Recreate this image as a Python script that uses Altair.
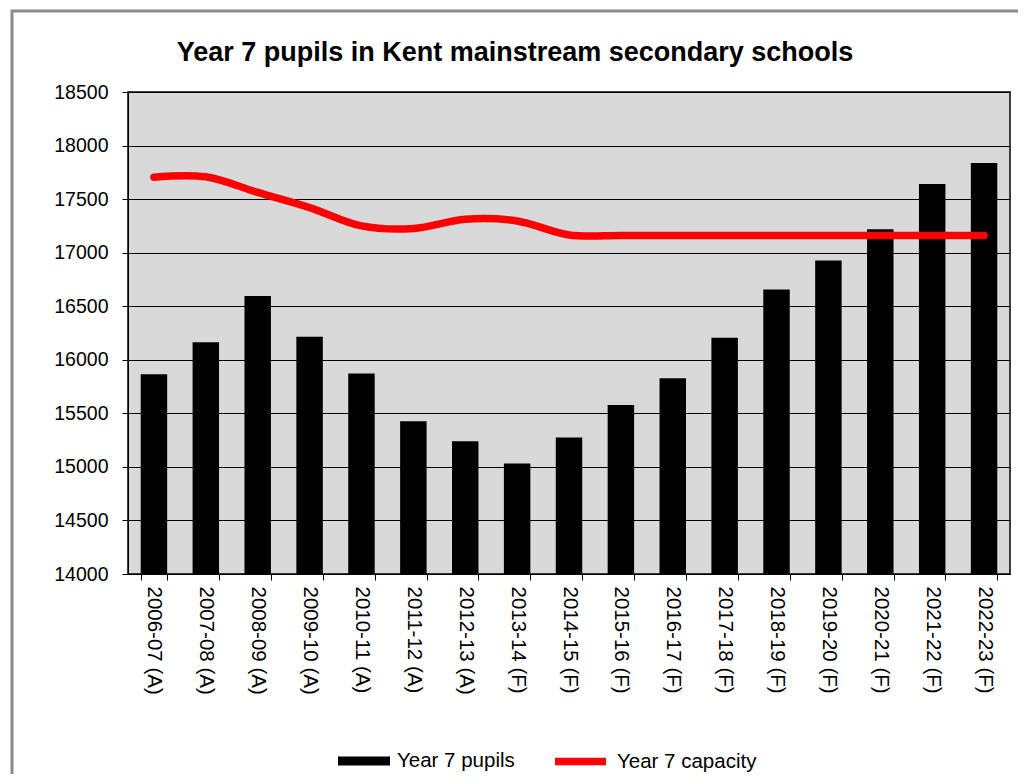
import altair as alt
import pandas as pd

years = ["2006-07 (A)", "2007-08 (A)", "2008-09 (A)", "2009-10 (A)", "2010-11 (A)",
         "2011-12 (A)", "2012-13 (A)", "2013-14 (F)", "2014-15 (F)", "2015-16 (F)",
         "2016-17 (F)", "2017-18 (F)", "2018-19 (F)", "2019-20 (F)", "2020-21 (F)",
         "2021-22 (F)", "2022-23 (F)"]
pupils = [15864, 16163, 16595, 16216, 15873, 15427, 15239, 15032, 15274, 15577,
          15827, 16206, 16657, 16928, 17218, 17640, 17838]
capacity = [17705, 17708, 17562, 17421, 17250, 17225, 17312, 17296, 17165, 17160,
            17160, 17160, 17160, 17160, 17160, 17160, 17160]

df = pd.DataFrame({"year": years, "pupils": pupils, "capacity": capacity,
                   "s1": "Year 7 pupils", "s2": "Year 7 capacity"})

FONT = "Liberation Sans"
W, H = 882, 482

x = alt.X("year:N", sort=years, title=None,
          scale=alt.Scale(paddingInner=0.49, paddingOuter=0.245),
          axis=alt.Axis(labelAngle=90, labelAlign="left", labelBaseline="middle",
                        labelFontSize=20.5, labelFont=FONT, labelColor="black",
                        labelPadding=6, tickBand="extent", tickSize=6,
                        tickColor="black", domainColor="black", grid=False,
                        labelOverlap=False))

y_scale = alt.Scale(domain=[14000, 18500], nice=False, zero=False)

bars = alt.Chart(df).mark_bar(color="black", clip=True).encode(
    x=x,
    y=alt.Y("pupils:Q", scale=y_scale, title=None,
            axis=alt.Axis(values=list(range(14000, 18501, 500)), labelFontSize=19.5,
                          labelFont=FONT, labelColor="black", labelPadding=14,
                          tickSize=6, tickColor="black", domainColor="black",
                          grid=True, gridColor="black", gridWidth=1.2,
                          format="d")),
    y2=alt.datum(14000),
    fill=alt.Fill("s1:N", scale=alt.Scale(domain=["Year 7 pupils"], range=["black"]),
                  legend=alt.Legend(title=None, orient="none", legendX=210, legendY=643,
                                    symbolType="M-1,-0.17H1V0.17H-1Z", symbolSize=2704,
                                    symbolStrokeWidth=0, labelFontSize=20.5, labelFont=FONT,
                                    labelColor="black", labelOffset=7, padding=0)),
)

line = alt.Chart(df).mark_line(color="red", strokeWidth=7.5, interpolate="catmull-rom",
                               strokeCap="round").encode(
    x=x,
    y=alt.Y("capacity:Q", scale=y_scale),
    stroke=alt.Stroke("s2:N", scale=alt.Scale(domain=["Year 7 capacity"], range=["red"]),
                      legend=alt.Legend(title=None, orient="none", legendX=423, legendY=640,
                                        symbolType="stroke", symbolSize=2601,
                                        symbolStrokeWidth=7.5, labelFontSize=20.5,
                                        labelFont=FONT, labelColor="black",
                                        labelOffset=7, padding=0)),
)

frame = alt.Chart(pd.DataFrame({"a": [0]})).mark_rect(
    fill=None, stroke="#8c8c8c", strokeWidth=3, clip=False).encode(
    x=alt.value(-116), x2=alt.value(W + 60), y=alt.value(-81), y2=alt.value(H + 260))

chart = alt.layer(bars, line, frame).resolve_scale(fill="independent", stroke="independent").properties(
    width=W, height=H,
    title=alt.TitleParams("Year 7 pupils in Kent mainstream secondary schools",
                          font=FONT, fontSize=27, fontWeight="bold", color="black",
                          anchor="middle", dx=-54, dy=85, offset=28),
    padding={"left": 120, "top": 84, "right": 8, "bottom": 200},
    autosize=alt.AutoSizeParams(type="none"),
    background="white",
).configure_view(fill="#d9d9d9", stroke="black", strokeWidth=1.5)

chart.save("out.html", embed_options={"renderer": "svg", "actions": False})
